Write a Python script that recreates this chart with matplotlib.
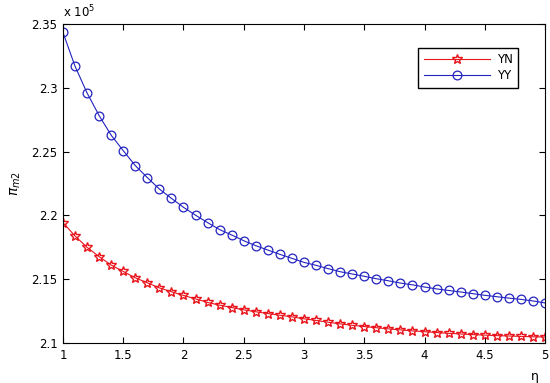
from matplotlib import pyplot as plt
import numpy as np

# eta values (1 to 5, step 0.1)
eta = [1.0, 1.1, 1.2, 1.3, 1.4, 1.5, 1.6, 1.7, 1.8, 1.9,
       2.0, 2.1, 2.2, 2.3, 2.4, 2.5, 2.6, 2.7, 2.8, 2.9,
       3.0, 3.1, 3.2, 3.3, 3.4, 3.5, 3.6, 3.7, 3.8, 3.9,
       4.0, 4.1, 4.2, 4.3, 4.4, 4.5, 4.6, 4.7, 4.8, 4.9, 5.0]

# profit values, in units of 1e5
yn = [2.1944, 2.1839, 2.1750, 2.1677, 2.1611, 2.1561, 2.1511, 2.1472, 2.1432, 2.1402,
      2.1373, 2.1346, 2.1318, 2.1297, 2.1278, 2.1260, 2.1245, 2.1231, 2.1218, 2.1205,
      2.1190, 2.1177, 2.1163, 2.1150, 2.1139, 2.1129, 2.1120, 2.1111, 2.1103, 2.1095,
      2.1089, 2.1082, 2.1076, 2.1071, 2.1066, 2.1062, 2.1058, 2.1055, 2.1052, 2.1049, 2.1047]
yy = [2.3435, 2.3170, 2.2960, 2.2783, 2.2629, 2.2508, 2.2391, 2.2297, 2.2207, 2.2134,
      2.2064, 2.2002, 2.1944, 2.1889, 2.1847, 2.1802, 2.1763, 2.1729, 2.1695, 2.1664,
      2.1632, 2.1609, 2.1583, 2.1559, 2.1541, 2.1523, 2.1504, 2.1488, 2.1470, 2.1456,
      2.1439, 2.1424, 2.1412, 2.1400, 2.1387, 2.1374, 2.1363, 2.1352, 2.1342, 2.1330, 2.1314]

legends = ['YN', 'YY']

plt.rcParams['font.family'] = ['DejaVu Sans']

fig = plt.figure(figsize=(5.5, 3.83), dpi=100)
ax = fig.add_axes([0.1145, 0.1044, 0.8765, 0.8326])

ax.plot(eta, yn, color='#e8141c', lw=0.8, marker='*', ms=7,
        mfc='none', mec='#e8141c', mew=1.0, label=legends[0])
ax.plot(eta, yy, color='#2323c0', lw=0.8, marker='o', ms=6.3,
        mfc='none', mec='#2323c0', mew=0.9, label=legends[1])

ax.set_xlim(1, 5)
ax.set_ylim(2.1, 2.35)
ax.set_xticks(np.arange(1, 5.01, 0.5))
ax.set_xticklabels(['1', '1.5', '2', '2.5', '3', '3.5', '4', '4.5', '5'])
ax.set_yticks([2.1, 2.15, 2.2, 2.25, 2.3, 2.35])
ax.set_yticklabels(['2.1', '2.15', '2.2', '2.25', '2.3', '2.35'])
ax.tick_params(direction='in', top=True, right=True, length=4.5, width=0.8,
               labelsize=8.5, pad=4)
for s in ax.spines.values():
    s.set_linewidth(0.8)

ax.text(0.0, 1.012, r'x 10$^{5}$', transform=ax.transAxes, fontsize=8.5,
        ha='left', va='bottom')
ax.set_ylabel(r'$\pi_{m2}$', fontsize=10, labelpad=6)
ax.set_xlabel('η', fontsize=9)
ax.xaxis.set_label_coords(0.978, -0.085)

ax.legend(loc='upper right', bbox_to_anchor=(0.944, 0.925), borderaxespad=0,
          fontsize=8.5, fancybox=False, edgecolor='black', framealpha=1,
          borderpad=0.45, handlelength=5.6, handletextpad=0.6, labelspacing=0.25)

plt.savefig('out.png', dpi=100)
